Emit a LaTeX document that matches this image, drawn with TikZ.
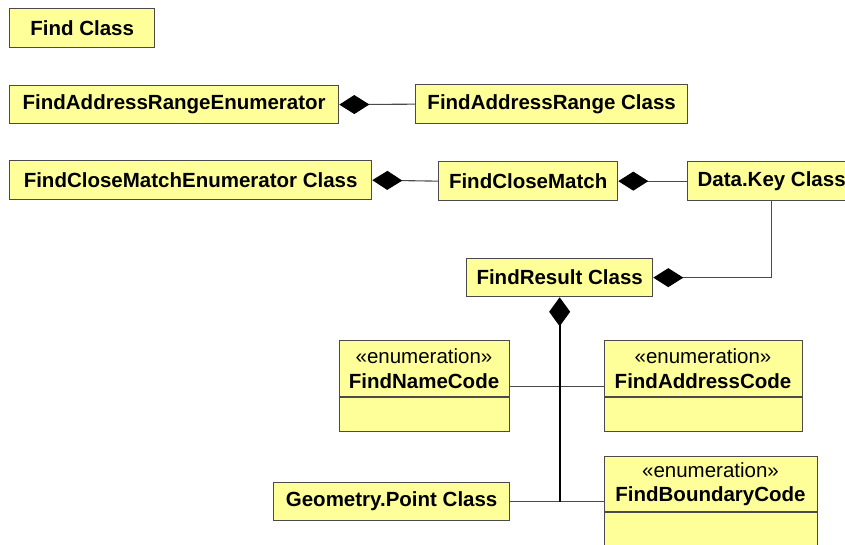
\documentclass[tikz,border=0pt]{standalone}
\usepackage{fontspec}
\setmainfont{Liberation Sans}
\usetikzlibrary{arrows.meta}
\definecolor{boxfill}{HTML}{FFFF99}
\definecolor{boxline}{HTML}{4A4A4A}
\begin{document}
\begin{tikzpicture}[x=1pt,y=-1pt,
  cls/.style={draw=boxline, line width=1.3pt, fill=boxfill, anchor=north west, inner sep=0pt,
    font=\fontsize{20.5}{24}\selectfont\bfseries},
  lbl/.style={inner sep=0pt, font=\fontsize{20.5}{24}\selectfont\bfseries},
  stereo/.style={inner sep=0pt, font=\fontsize{20.5}{24}\selectfont},
  conn/.style={draw=boxline, line width=1.1pt},
  comp/.style={conn, {Diamond[length=30pt,width=19pt,fill=black,color=black]}-},
  compv/.style={draw=black, line width=1.8pt, {Diamond[length=29pt,width=21pt,fill=black]}-}
]
\useasboundingbox (0,0) rectangle (845,545);
\clip (0,0) rectangle (845,545);
\fill[white] (0,0) rectangle (845,545);

% simple class boxes
\node[cls, minimum width=145pt, minimum height=39pt] (find) at (9,8) {Find Class};
\node[cls, minimum width=329pt, minimum height=38pt] (fare) at (9,85) {FindAddressRangeEnumerator};
\node[cls, minimum width=272pt, minimum height=39pt] (far) at (415,84) {FindAddressRange Class};
\node[cls, minimum width=362pt, minimum height=39pt] (fcme) at (9,160) {FindCloseMatchEnumerator Class};
\node[cls, minimum width=179pt, minimum height=39pt] (fcm) at (438,161) {FindCloseMatch};
\node[cls, minimum width=168pt, minimum height=39pt] (dk) at (687,161) {Data.Key Class};
\node[cls, minimum width=186pt, minimum height=38pt] (fr) at (466,258) {FindResult Class};
\node[cls, minimum width=236pt, minimum height=38pt] (gp) at (273,482) {Geometry.Point Class};

% enumeration boxes
\node[cls, minimum width=170pt, minimum height=91pt] (fnc) at (339,340) {};
\draw[boxline, line width=1.3pt] (339,397) -- (509,397);
\node[stereo] (fncs) at (424,356) {«enumeration»};
\node[lbl] (fncn) at (424,381) {FindNameCode};

\node[cls, minimum width=198pt, minimum height=91pt] (fac) at (604,340) {};
\draw[boxline, line width=1.3pt] (604,397) -- (802,397);
\node[stereo] (facs) at (703,356) {«enumeration»};
\node[lbl] (facn) at (703,381) {FindAddressCode};

\node[cls, minimum width=213pt, minimum height=110pt] (fbc) at (604,456) {};
\draw[boxline, line width=1.3pt] (604,512) -- (817,512);
\node[stereo] (fbcs) at (710.5,470) {«enumeration»};
\node[lbl] (fbcn) at (710.5,496) {FindBoundaryCode};

% connectors
\draw[comp] (fare.east) -- (far.west);
\draw[comp] (fcme.east) -- (fcm.west);
\draw[comp] (fcm.east) -- (dk.west);
\draw[comp] (fr.east) -| (dk.south);
\draw[conn] (fnc.east) -- (fac.west);
\draw[conn] (gp.east) -- (gp.east -| fbc.west);
\draw[compv] (fr.south) -- (fr.south |- gp.east);
\end{tikzpicture}
\end{document}
